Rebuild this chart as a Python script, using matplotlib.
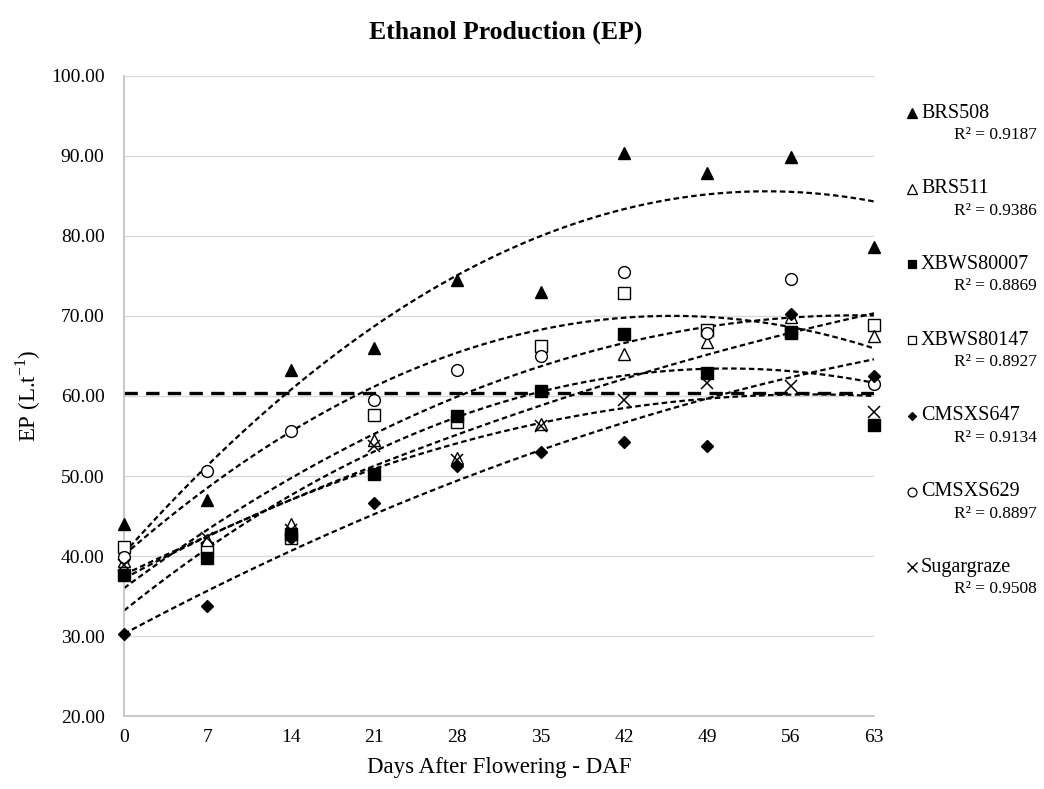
import numpy as np
import matplotlib
matplotlib.use('Agg')
import matplotlib.pyplot as plt
from matplotlib.lines import Line2D

plt.rcParams['font.family'] = ['Liberation Serif', 'DejaVu Serif']
plt.rcParams['mathtext.fontset'] = 'custom'
plt.rcParams['mathtext.rm'] = 'Liberation Serif'

# days after flowering
daf = [0, 7, 14, 21, 28, 35, 42, 49, 56, 63]

# ethanol production per genotype
brs508 = [44.0, 47.0, 63.3, 66.0, 74.5, 73.0, 90.4, 87.9, 89.9, 78.6]
brs511 = [39.4, 42.0, 44.0, 54.5, 52.2, 56.5, 65.2, 66.8, 69.9, 67.5]
xbws80007 = [37.6, 39.8, 42.8, 50.2, 57.5, 60.6, 67.7, 62.9, 67.9, 56.4]
xbws80147 = [41.1, 41.0, 42.2, 57.6, 56.8, 66.2, 72.9, 68.3, 68.0, 68.9]
cmsxs647 = [30.2, 33.7, 42.2, 46.6, 51.2, 53.0, 54.3, 53.8, 70.2, 62.5]
cmsxs629 = [39.9, 50.6, 55.6, 59.5, 63.2, 65.0, 75.5, 67.9, 74.6, 61.5]
sugargraze = [38.9, 42.2, 43.2, 53.8, 52.0, 56.2, 59.5, 61.6, 61.2, 58.0]

names = ['BRS508', 'BRS511', 'XBWS80007', 'XBWS80147', 'CMSXS647', 'CMSXS629', 'Sugargraze']
r2_labels = ['0.9187', '0.9386', '0.8869', '0.8927', '0.9134', '0.8897', '0.9508']
mean_ep = 60.4

series = [brs508, brs511, xbws80007, xbws80147, cmsxs647, cmsxs629, sugargraze]
# (marker, facecolor, size)
styles = [('^', 'black', 9), ('^', 'white', 9), ('s', 'black', 8), ('s', 'white', 8),
          ('D', 'black', 6), ('o', 'white', 8.5), ('x', 'black', 9)]

fig = plt.figure(figsize=(10.44, 7.89), dpi=100)
ax = fig.add_axes([0.1188, 0.0925, 0.7184, 0.8112])

x = np.array(daf, dtype=float)
xs = np.linspace(0, 63, 200)

# trend lines (2nd order polynomial, like the Excel ones)
for vals in series:
    c = np.polyfit(x, vals, 2)
    ax.plot(xs, np.polyval(c, xs), color='black', lw=1.6, ls=(0, (2.5, 1.5)), zorder=2)

ax.plot([0, 63], [mean_ep, mean_ep], color='black', lw=2.4, ls=(0, (4, 2.5)), zorder=2)

# open square drawn first so the filled one sits on top where they overlap
order = [3, 1, 5, 0, 2, 4, 6]
for k in order:
    vals = series[k]
    m, fc, ms = styles[k]
    if m == 'x':
        ax.plot(x, vals, ls='none', marker=m, color='black', ms=ms, mew=1.1,
                clip_on=False, zorder=3)
    else:
        ax.plot(x, vals, ls='none', marker=m, mfc=fc, mec='black', ms=ms, mew=1.0,
                clip_on=False, zorder=3)

ax.set_xlim(0, 63)
ax.set_ylim(20, 100)
ax.set_xticks(daf)
ax.set_yticks(np.arange(20, 101, 10))
ax.set_yticklabels([f'{v:.2f}' for v in np.arange(20, 101, 10)])
ax.tick_params(axis='both', length=0, labelsize=14, pad=9)
ax.tick_params(axis='y', pad=14)
ax.grid(axis='y', color='#d9d9d9', lw=1)
ax.set_axisbelow(True)
for s in ['top', 'right']:
    ax.spines[s].set_visible(False)
for s in ['left', 'bottom']:
    ax.spines[s].set_color('#bfbfbf')
    ax.spines[s].set_linewidth(1.2)

ax.set_xlabel('Days After Flowering - DAF', fontsize=16.5, labelpad=8)
ax.set_ylabel(r'EP (L.t$^{\mathregular{-1}}$)', fontsize=16.5, labelpad=6)
fig.text(0.484, 1 - 32 / 789, 'Ethanol Production (EP)', ha='center', va='center',
         fontsize=18.5, fontweight='bold')

# legend with R² values, Excel style
for i, (nm, r2, (m, fc, ms)) in enumerate(zip(names, r2_labels, styles)):
    yp = 1 - (113 + 75.7 * i) / 789
    if m == 'x':
        fig.add_artist(Line2D([912 / 1044], [yp], marker=m, color='black', ms=7, mew=1,
                              transform=fig.transFigure))
    else:
        fig.add_artist(Line2D([912 / 1044], [yp], marker=m, mfc=fc, mec='black',
                              ms=ms * 0.75, mew=0.9, transform=fig.transFigure))
    fig.text(921 / 1044, yp, nm, ha='left', va='center', fontsize=14.5)
    fig.text(1037 / 1044, yp - 22 / 789, 'R² = ' + r2, ha='right', va='center', fontsize=12.5)

fig.savefig('out.png', dpi=100)
